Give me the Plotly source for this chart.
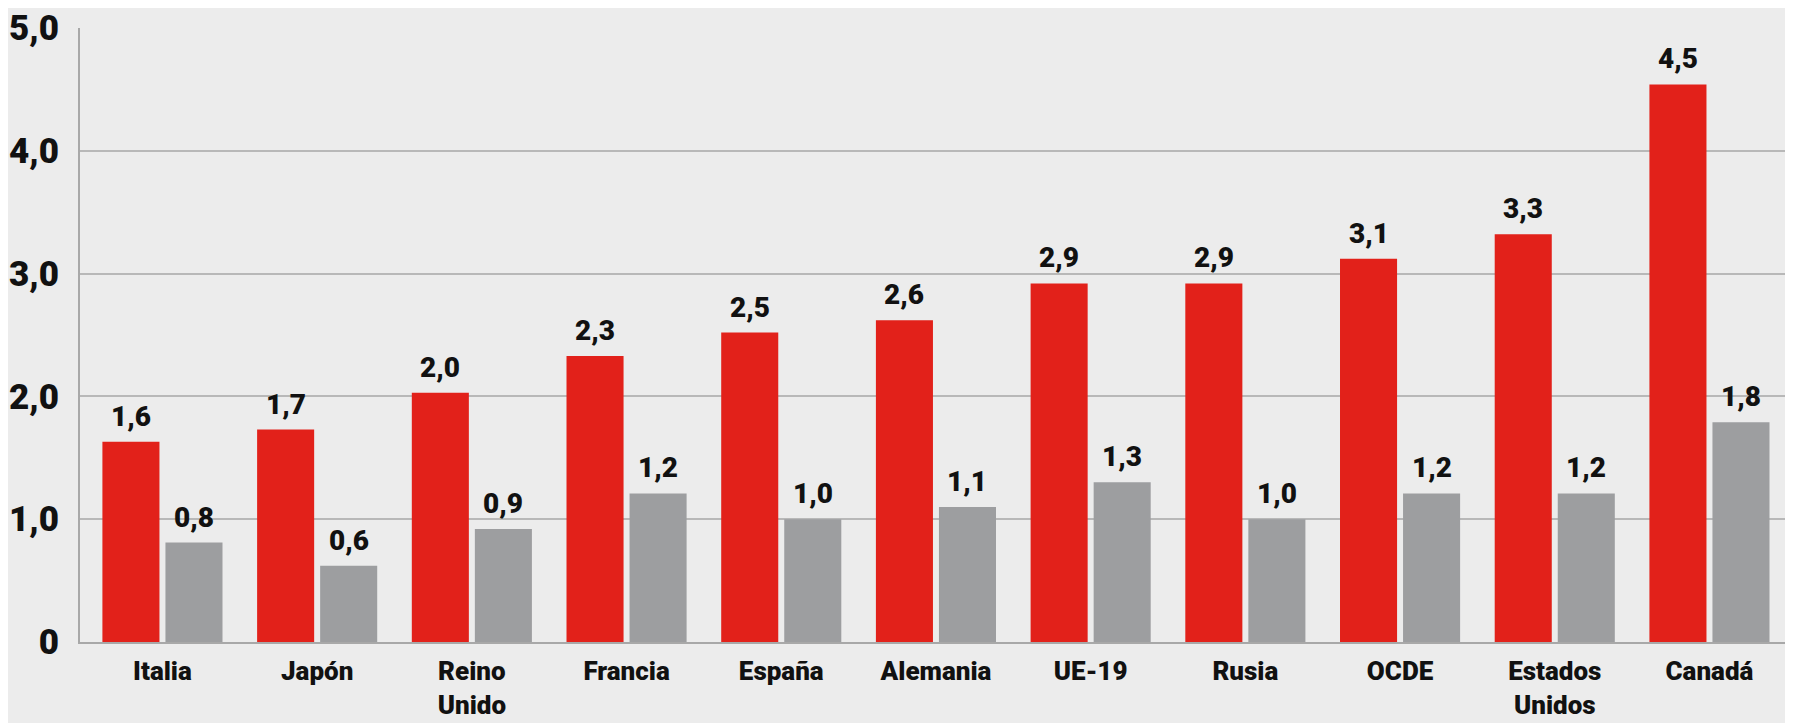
import plotly.graph_objects as go

categories = ["Italia", "Japón", "Reino<br>Unido", "Francia", "España", "Alemania",
              "UE-19", "Rusia", "OCDE", "Estados<br>Unidos", "Canadá"]
red_values = [1.63, 1.73, 2.03, 2.33, 2.52, 2.62, 2.92, 2.92, 3.12, 3.32, 4.54]
gray_values = [0.81, 0.62, 0.92, 1.21, 1.0, 1.1, 1.3, 1.0, 1.21, 1.21, 1.79]
y_tickvals = [0, 1, 2, 3, 4, 5]
y_ticktext = ["0", "1,0", "2,0", "3,0", "4,0", "5,0"]

FONT = "Roboto, Liberation Sans, sans-serif"
RED = "#E2211A"
GRAY = "#9D9EA0"
BG = "#ECECEC"
BARGAP = 0.185
BARGROUPGAP = 0.095


def f(size, weight=700):
    return dict(family=FONT, size=size, color="#111111", weight=weight)


fig = go.Figure()
fig.add_trace(go.Bar(x=categories, y=red_values, marker=dict(color=RED, line=dict(width=0))))
fig.add_trace(go.Bar(x=categories, y=gray_values, marker=dict(color=GRAY, line=dict(width=0))))

# value labels above each bar, placed from the data (bar centre offset follows from bargap)
half_slot = (1 - BARGAP) / 4
for series, sign in ((red_values, -1), (gray_values, 1)):
    for i, v in enumerate(series):
        fig.add_annotation(x=i + sign * half_slot, y=v, xref="x", yref="y",
                           text=f"{v:.1f}".replace(".", ","), showarrow=False,
                           yanchor="bottom", yshift=7, font=f(28, 900))

# page body has an 8px margin, so the figure is offset by (8, 8) in the window
fig.update_layout(
    width=1785, height=715,
    margin=dict(l=72, r=0, t=20, b=81),
    paper_bgcolor=BG, plot_bgcolor=BG,
    barmode="group", bargap=BARGAP, bargroupgap=BARGROUPGAP,
    showlegend=False,
    font=dict(family=FONT, color="#111111"),
)
fig.update_xaxes(
    range=[-0.533, 10.54], automargin=False,
    showline=True, linecolor="#A8A8A8", linewidth=2,
    showgrid=False, ticks="outside", ticklen=5, tickcolor="rgba(0,0,0,0)",
    tickfont=f(26, 900),
)
fig.update_yaxes(
    range=[0, 5.0], tickvals=y_tickvals, ticktext=y_ticktext, automargin=False,
    showline=True, linecolor="#A8A8A8", linewidth=2,
    showgrid=True, gridcolor="#B8B8B8", gridwidth=1.5, zeroline=False,
    ticks="outside", ticklen=12, tickcolor="rgba(0,0,0,0)",
    tickfont=f(35, 900),
)

fig.write_html("out.html")
